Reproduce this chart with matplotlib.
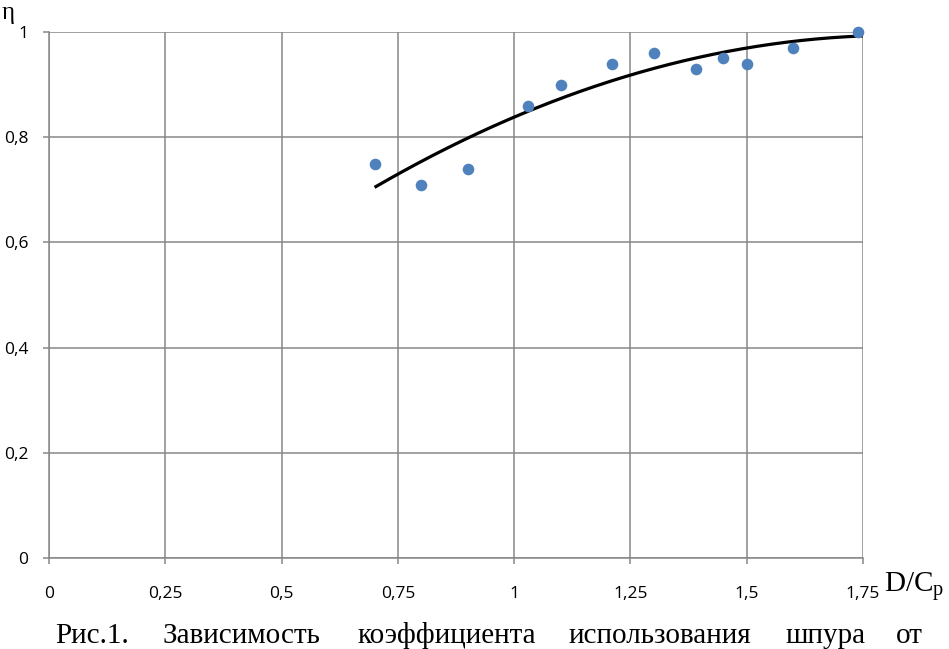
import numpy as np
import matplotlib
matplotlib.use("Agg")
import matplotlib.pyplot as plt

# Data
ratio = [0.70, 0.80, 0.90, 1.03, 1.10, 1.21, 1.30, 1.39, 1.45, 1.50, 1.60, 1.74]
eta = [0.75, 0.71, 0.74, 0.86, 0.90, 0.94, 0.96, 0.93, 0.95, 0.94, 0.97, 1.00]
# trend line (2nd order polynomial) read at several points
trend_x = [0.70, 1.00, 1.25, 1.50, 1.75]
trend_y = [0.704, 0.840, 0.917, 0.969, 0.993]
x_ticks = [0, 0.25, 0.5, 0.75, 1.0, 1.25, 1.5, 1.75]
x_ticklabels = ["0", "0,25", "0,5", "0,75", "1", "1,25", "1,5", "1,75"]
y_ticks = [0, 0.2, 0.4, 0.6, 0.8, 1.0]
y_ticklabels = ["0", "0,2", "0,4", "0,6", "0,8", "1"]
caption_words = ["Рис.1.", "Зависимость", "коэффициента", "использования", "шпура", "от"]
caption_x = [55, 163, 358, 569, 786, 896]

W, H = 949, 649
fig = plt.figure(figsize=(W / 100, H / 100), dpi=100)
ax = fig.add_axes([49 / W, 1 - 558 / H, (863 - 49) / W, (558 - 32) / H])

grid_c = "#878787"
ax.set_xlim(0, 1.75)
ax.set_ylim(0, 1.0)
ax.set_xticks(x_ticks)
ax.set_xticklabels(x_ticklabels)
ax.set_yticks(y_ticks)
ax.set_yticklabels(y_ticklabels)
ax.grid(True, color=grid_c, linewidth=1.1)
ax.set_axisbelow(True)
for s in ["top", "right"]:
    ax.spines[s].set_visible(False)
for s in ["left", "bottom"]:
    ax.spines[s].set_color(grid_c)
    ax.spines[s].set_linewidth(1.1)
ax.tick_params(axis="both", direction="out", length=4, width=1.1, color=grid_c,
               labelsize=12.5, labelcolor="black")
ax.tick_params(axis="x", pad=16)
ax.tick_params(axis="y", pad=11)
for lab in ax.get_xticklabels() + ax.get_yticklabels():
    lab.set_family("Open Sans")

coef = np.polyfit(trend_x, trend_y, 2)
xs = np.linspace(trend_x[0], trend_x[-1], 200)
ax.plot(xs, np.polyval(coef, xs), color="black", linewidth=2.3, solid_capstyle="butt", zorder=3)
ax.scatter(ratio, eta, s=70, color="#4F81BD", zorder=4, clip_on=False, linewidths=0)

serif = "Liberation Serif"
plt.rcParams["mathtext.fontset"] = "custom"
plt.rcParams["mathtext.rm"] = serif
fig.text(2 / W, 1 - 2 / H, "η", family=serif, fontsize=18, ha="left", va="top")
fig.text(884 / W, 1 - 592 / H, r"$\mathregular{D/C_p}$", family=serif, fontsize=21,
         ha="left", va="baseline")
for wd, xp in zip(caption_words, caption_x):
    fig.text(xp / W, 1 - 643 / H, wd, family=serif, fontsize=21, ha="left", va="baseline")

fig.savefig("out.png", dpi=100)
